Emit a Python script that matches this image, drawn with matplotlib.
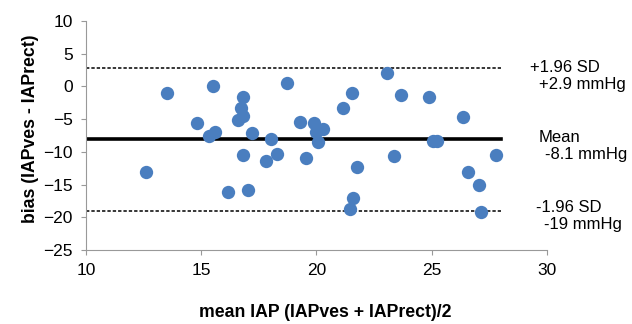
import matplotlib
matplotlib.use("Agg")
import matplotlib.pyplot as plt

plt.rcParams['font.family'] = ['Liberation Sans', 'DejaVu Sans']

mean_iap = [13.5, 15.5, 12.6, 14.83, 15.34, 15.6, 16.83, 16.71, 16.83, 16.58,
            17.2, 16.8, 16.15, 17.04, 17.8, 18.04, 18.3, 18.72, 19.28, 19.53,
            19.9, 20.0, 20.3, 20.08, 21.16, 21.55, 21.74, 21.6, 21.45, 23.04,
            23.65, 23.36, 24.88, 25.07, 25.21, 26.34, 26.57, 27.05, 27.14, 27.8]
bias = [-1.0, 0.1, -13.1, -5.6, -7.6, -7.0, -1.67, -3.35, -4.5, -5.1,
        -7.1, -10.5, -16.2, -15.9, -11.4, -8.0, -10.4, 0.6, -5.5, -10.9,
        -5.6, -6.9, -6.5, -8.5, -3.25, -1.06, -12.3, -17.1, -18.8, 2.0,
        -1.27, -10.6, -1.67, -8.3, -8.3, -4.6, -13.0, -15.0, -19.2, -10.5]

mean_bias = -8.1
upper_loa = 2.9
lower_loa = -19.0
line_x = [10, 28]

xticks = [10, 15, 20, 25, 30]
yticks = [10, 5, 0, -5, -10, -15, -20, -25]

fig = plt.figure(figsize=(6.32, 3.24), dpi=100)
ax = fig.add_axes([0.136, 0.2284, 0.7295, 0.7066])

ax.plot(line_x, [upper_loa, upper_loa], color='black', lw=1.1, ls=(0, (2.2, 1.3)))
ax.plot(line_x, [lower_loa, lower_loa], color='black', lw=1.1, ls=(0, (2.2, 1.3)))
ax.plot(line_x, [mean_bias, mean_bias], color='black', lw=2.6)
ax.scatter(mean_iap, bias, s=92, color='#4a7ebf', zorder=3, linewidths=0)

ax.set_xlim(10, 30)
ax.set_ylim(-25, 10)
ax.set_xticks(xticks)
ax.set_yticks(yticks)
ax.tick_params(axis='both', labelsize=12.5, color='#999999', length=3.6, width=0.8, pad=6)
for s in ['top', 'right']:
    ax.spines[s].set_visible(False)
for s in ['left', 'bottom']:
    ax.spines[s].set_color('#999999')
    ax.spines[s].set_linewidth(0.8)

ax.set_xlabel('mean IAP (IAPves + IAPrect)/2', fontsize=12.7, fontweight='bold', va='center')
ax.xaxis.set_label_coords(0.52, -0.275)
ax.set_ylabel('bias (IAPves - IAPrect)', fontsize=12.7, fontweight='bold', va='center')
ax.yaxis.set_label_coords(-0.121, 0.53)

tkw = dict(transform=fig.transFigure, fontsize=12, va='center', ha='left')
def fx(px): return px / 632
def fy(py): return 1 - py / 324
fig.text(fx(530), fy(67.5), '+1.96 SD', **tkw)
fig.text(fx(539), fy(84), '+2.9 mmHg', **tkw)
fig.text(fx(539), fy(137), 'Mean', **tkw)
fig.text(fx(545), fy(155), '-8.1 mmHg', **tkw)
fig.text(fx(536), fy(208), '-1.96 SD', **tkw)
fig.text(fx(544), fy(224), '-19 mmHg', **tkw)

fig.savefig('out.png', dpi=100)
